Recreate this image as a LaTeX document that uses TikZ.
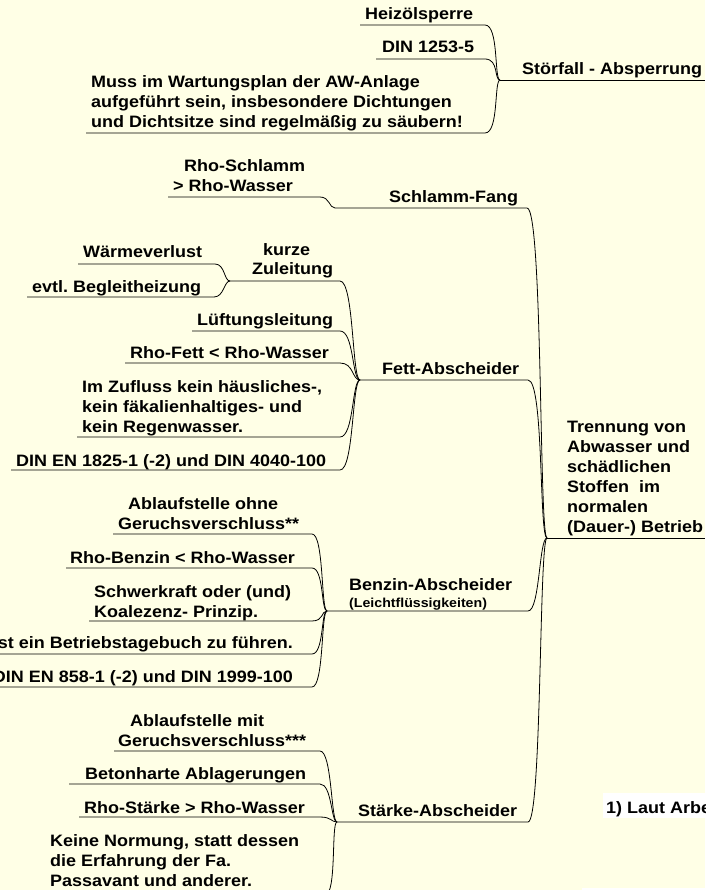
\documentclass[tikz,border=0pt]{standalone}
\usepackage{fontspec}
\setmainfont[FakeStretch=1.09]{Liberation Sans}
\definecolor{bg}{RGB}{255,255,230}
\newcommand\mainfnt{\fontsize{16.5}{20}\selectfont\bfseries}
\newcommand\smallfnt{\fontsize{13}{15}\selectfont\bfseries}
\newcommand\ml[1]{\begin{tabular}[t]{@{}l@{}}#1\end{tabular}}
\frenchspacing
\begin{document}
\begin{tikzpicture}[x=1pt,y=-1pt,
  lbl/.style={inner sep=0pt, anchor=base west, font=\mainfnt, text=black},
  lbr/.style={inner sep=0pt, anchor=base east, font=\mainfnt, text=black},
  br/.style={line width=0.8pt, draw=black}]
\useasboundingbox (0,0) rectangle (705,890);
\fill[bg] (0,0) rectangle (705,890);
\clip (0,0) rectangle (705,890);

% ---------- junction / line-end coordinates ----------
\coordinate (jRoot) at (547,538);  \coordinate (eRoot) at (705,538);
\coordinate (jStoer) at (500,80);  \coordinate (eStoer) at (705,80);
\coordinate (lHeiz) at (360,25);   \coordinate (rHeiz) at (485,25);
\coordinate (lDinA) at (376,59);   \coordinate (rDinA) at (485,59);
\coordinate (lMuss) at (86,133);   \coordinate (rMuss) at (485,133);

\coordinate (jSchl) at (335,208);  \coordinate (rSchl) at (527,208);
\coordinate (lRhoS) at (168,197);  \coordinate (rRhoS) at (320,197);

\coordinate (jFett) at (360,380);  \coordinate (rFett) at (528,380);
\coordinate (jKurz) at (230,281);  \coordinate (rKurz) at (340,281);
\coordinate (lWaer) at (78,264);   \coordinate (rWaer) at (215,264);
\coordinate (lBegl) at (27,297);   \coordinate (rBegl) at (214,297);
\coordinate (lLuef) at (192,331);  \coordinate (rLuef) at (340,331);
\coordinate (lRhoF) at (125,363);  \coordinate (rRhoF) at (340,363);
\coordinate (lZufl) at (77,437);   \coordinate (rZufl) at (340,437);
\coordinate (lDinB) at (11,470);   \coordinate (rDinB) at (340,470);

\coordinate (jBenz) at (327,611);  \coordinate (rBenz) at (528,611);
\coordinate (lAblO) at (113,534);  \coordinate (rAblO) at (312,534);
\coordinate (lRhoB) at (66,568);   \coordinate (rRhoB) at (312,568);
\coordinate (lSchw) at (89,621);   \coordinate (rSchw) at (312,621);
\coordinate (lTage) at (-5,654);   \coordinate (rTage) at (312,654);
\coordinate (lDinC) at (-5,687);   \coordinate (rDinC) at (312,687);

\coordinate (jStae) at (337,822);  \coordinate (rStae) at (528,822);
\coordinate (lAblM) at (114,751);  \coordinate (rAblM) at (320,751);
\coordinate (lBeto) at (69,784);   \coordinate (rBeto) at (320,784);
\coordinate (lRhoK) at (79,817);   \coordinate (rRhoK) at (320,817);
\coordinate (lKein) at (45,895);   \coordinate (rKein) at (325,895);

% ---------- connectors ----------
\draw[br] (jStoer) -- (eStoer);
\draw[br] (lHeiz) -- (rHeiz) .. controls +(14,0) and +(-6,0) .. (jStoer);
\draw[br] (lDinA) -- (rDinA) .. controls +(14,0) and +(-6,0) .. (jStoer);
\draw[br] (lMuss) -- (rMuss) .. controls +(14,0) and +(-6,0) .. (jStoer);

\draw[br] (jRoot) -- (eRoot);
\draw[br] (jSchl) -- (rSchl) .. controls +(16,0) and +(-8,0) .. (jRoot);
\draw[br] (lRhoS) -- (rRhoS) .. controls +(10,0) and +(-6,0) .. (jSchl);

\draw[br] (jFett) -- (rFett) .. controls +(16,0) and +(-8,0) .. (jRoot);
\draw[br] (jKurz) -- (rKurz) .. controls +(14,0) and +(-8,0) .. (jFett);
\draw[br] (lWaer) -- (rWaer) .. controls +(10,0) and +(-6,0) .. (jKurz);
\draw[br] (lBegl) -- (rBegl) .. controls +(10,0) and +(-6,0) .. (jKurz);
\draw[br] (lLuef) -- (rLuef) .. controls +(14,0) and +(-8,0) .. (jFett);
\draw[br] (lRhoF) -- (rRhoF) .. controls +(14,0) and +(-8,0) .. (jFett);
\draw[br] (lZufl) -- (rZufl) .. controls +(14,0) and +(-8,0) .. (jFett);
\draw[br] (lDinB) -- (rDinB) .. controls +(14,0) and +(-8,0) .. (jFett);

\draw[br] (jBenz) -- (rBenz) .. controls +(12,0) and +(-8,0) .. (jRoot);
\draw[br] (lAblO) -- (rAblO) .. controls +(12,0) and +(-6,0) .. (jBenz);
\draw[br] (lRhoB) -- (rRhoB) .. controls +(12,0) and +(-6,0) .. (jBenz);
\draw[br] (lSchw) -- (rSchw) .. controls +(12,0) and +(-6,0) .. (jBenz);
\draw[br] (lTage) -- (rTage) .. controls +(12,0) and +(-6,0) .. (jBenz);
\draw[br] (lDinC) -- (rDinC) .. controls +(12,0) and +(-6,0) .. (jBenz);

\draw[br] (jStae) -- (rStae) .. controls +(14,0) and +(-8,0) .. (jRoot);
\draw[br] (lAblM) -- (rAblM) .. controls +(12,0) and +(-6,0) .. (jStae);
\draw[br] (lBeto) -- (rBeto) .. controls +(12,0) and +(-6,0) .. (jStae);
\draw[br] (lRhoK) -- (rRhoK) .. controls +(12,0) and +(-6,0) .. (jStae);
\draw[br] (lKein) -- (rKein) .. controls +(12,0) and +(-6,0) .. (jStae);

% ---------- labels ----------
\node[lbl] (stoer) at (522,75) {Störfall - Absperrung};
\node[lbl] (heiz) at (365,20) {Heizölsperre};
\node[lbl] (dinA) at (382,53) {DIN 1253-5};
\node[lbl] (muss) at (91,88) {\ml{Muss im Wartungsplan der AW-Anlage\\aufgeführt sein, insbesondere Dichtungen\\und Dichtsitze sind regelmäßig zu säubern!}};

\node[lbl] (root) at (567,432) {\ml{Trennung von\\Abwasser und\\schädlichen\\Stoffen\ \ im\\normalen\\(Dauer-) Betrieb}};

\node[lbl] (schl) at (389,203) {Schlamm-Fang};
\node[lbl] (rhoS) at (173,172) {\ml{\hspace{11pt}Rho-Schlamm\\> Rho-Wasser}};

\node[lbl] (fett) at (382,374) {Fett-Abscheider};
\node[lbl] (kurz) at (252,255) {\ml{\hspace{11pt}kurze\\Zuleitung}};
\node[lbl] (waer) at (83,258) {Wärmeverlust};
\node[lbl] (begl) at (32,292) {evtl. Begleitheizung};
\node[lbl] (luef) at (197,325) {Lüftungsleitung};
\node[lbl] (rhoF) at (130,358) {Rho-Fett < Rho-Wasser};
\node[lbl] (zufl) at (82,392) {\ml{Im Zufluss kein häusliches-,\\kein fäkalienhaltiges- und\\kein Regenwasser.}};
\node[lbl] (dinB) at (16,466) {DIN EN 1825-1 (-2) und DIN 4040-100};

\node[lbl] (benz) at (349,590) {Benzin-Abscheider};
\node[inner sep=0pt, anchor=base west, font=\smallfnt] (leicht) at (349,607) {(Leichtflüssigkeiten)};
\node[lbl] (ablO) at (118,509) {\ml{\hspace{10pt}Ablaufstelle ohne\\Geruchsverschluss**}};
\node[lbl] (rhoB) at (70,563) {Rho-Benzin < Rho-Wasser};
\node[lbl] (schw) at (94,597) {\ml{Schwerkraft oder (und)\\Koalezenz- Prinzip.}};
\node[lbr] (tage) at (293,648) {Es ist ein Betriebstagebuch zu führen.};
\node[lbr] (dinC) at (293,682) {DIN EN 858-1 (-2) und DIN 1999-100};

\node[lbl] (stae) at (358,816) {Stärke-Abscheider};
\node[lbl] (ablM) at (118,726) {\ml{\hspace{12pt}Ablaufstelle mit\\Geruchsverschluss***}};
\node[lbl] (beto) at (85,779) {Betonharte Ablagerungen};
\node[lbl] (rhoK) at (84,813) {Rho-Stärke > Rho-Wasser};
\node[lbl] (kein) at (50,846) {\ml{Keine Normung, statt dessen\\die Erfahrung der Fa.\\Passavant und anderer.}};

% ---------- footnote ----------
\fill[white] (603,793) rectangle (705,818);
\node[lbl] (fn) at (606,813) {1) Laut Arbeitsblatt};
\fill[white] (582,888) rectangle (705,890);
\end{tikzpicture}
\end{document}
